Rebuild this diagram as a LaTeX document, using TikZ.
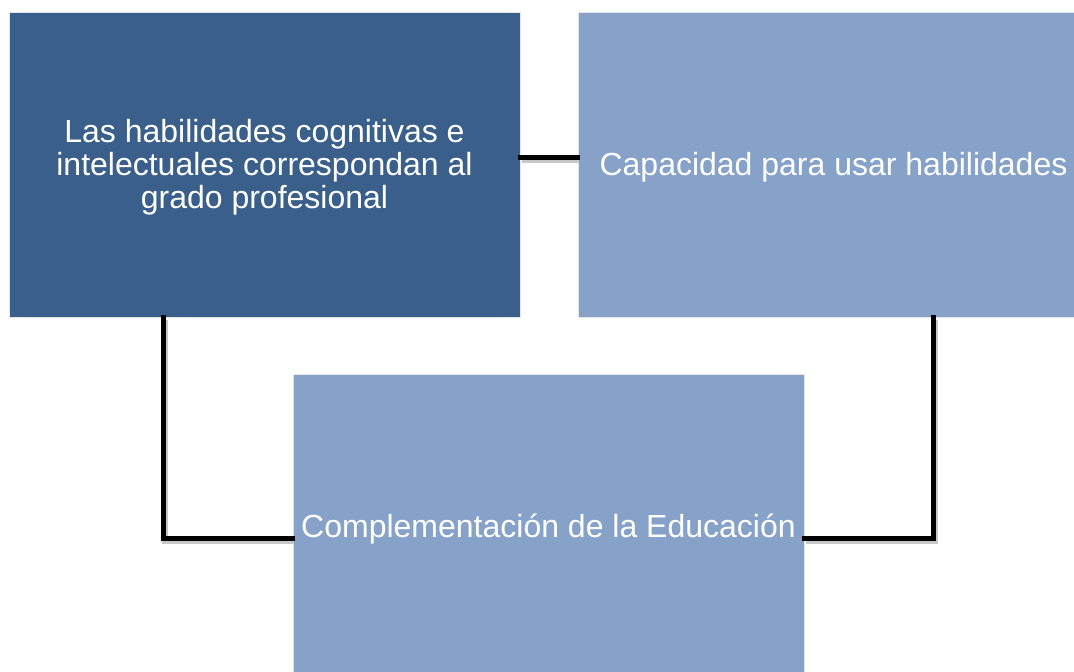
\documentclass[tikz,border=0pt]{standalone}
\usepackage{fontspec}
\setmainfont{Liberation Sans}
\definecolor{darkblue}{RGB}{58,95,139}
\definecolor{lightblue}{RGB}{135,162,201}
\newcommand{\lowertext}[1]{\raisebox{-4pt}[\height][\depth]{\begin{tabular}{@{}c@{}}#1\end{tabular}}}
\tikzset{
  box/.style={rectangle, minimum width=511pt, minimum height=305pt, inner sep=0pt,
    text=white, align=center, font=\fontsize{32}{32.5}\selectfont, draw=white!80!gray, line width=0.6pt},
  conn/.style={line width=5pt, black, line cap=rect,
    preaction={draw=black!22, line width=6pt, transform canvas={xshift=1.5pt, yshift=-2.5pt}}},
}
\begin{document}
\begin{tikzpicture}[x=1pt,y=-1pt]
\useasboundingbox (0,0) rectangle (1074,672);
\clip (0,0) rectangle (1074,672);
\fill[white] (0,0) rectangle (1074,672);
\node[box, fill=darkblue] (A) at (264.5,164.5) {\lowertext{Las habilidades cognitivas e\\intelectuales correspondan al\\grado profesional}};
\node[box, fill=lightblue] (B) at (833.5,164.5) {\lowertext{Capacidad para usar habilidades}};
\node[box, fill=lightblue] (C) at (548.5,526.5) {\lowertext{Complementación de la Educación}};
\draw[conn] ([yshift=7.5pt]A.east) -- ([yshift=7.5pt]B.west);
\draw[conn] ([xshift=-101.5pt]A.south) |- ([yshift=-11.5pt]C.west);
\draw[conn] ([xshift=99.5pt]B.south) |- ([yshift=-11.5pt]C.east);
\end{tikzpicture}
\end{document}
